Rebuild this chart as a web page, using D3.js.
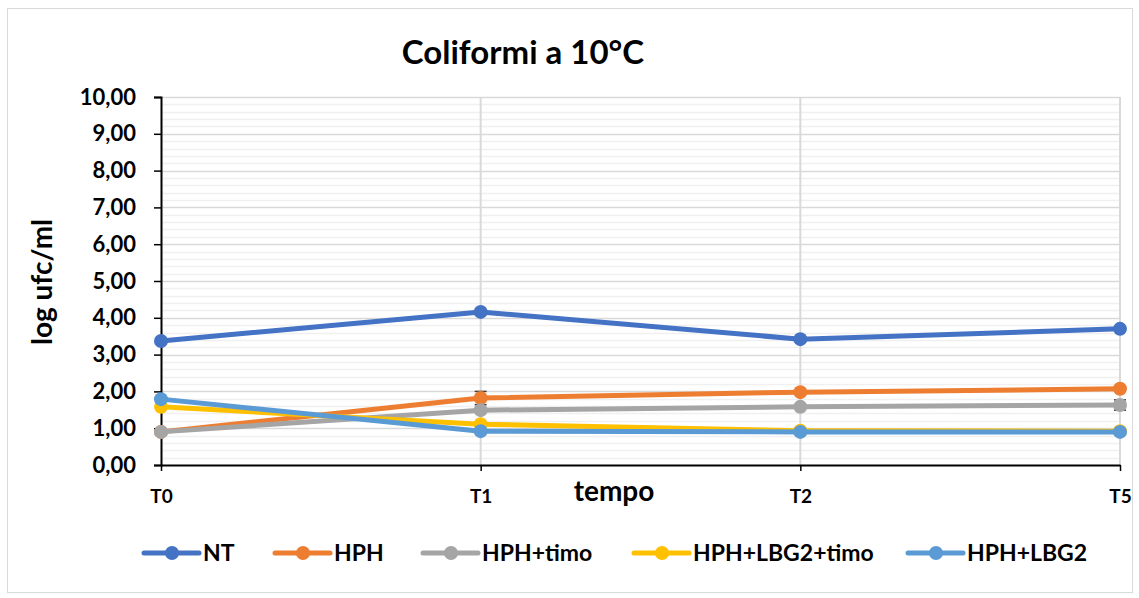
<!DOCTYPE html>
<html>
<head>
<meta charset="utf-8">
<script src="https://cdn.jsdelivr.net/npm/d3@7"></script>
<style>
  body { margin: 0; background: #fff; }
  text { font-family: Lato, "Open Sans", sans-serif; font-weight: bold; fill: #000; }
</style>
</head>
<body>
<div id="chart"></div>
<script>
// data
const times = ["T0", "T1", "T2", "T5"];
const seriesNames = ["NT", "HPH", "HPH+timo", "HPH+LBG2+timo", "HPH+LBG2"];
const seriesColors = ["#4472c4", "#ed7d31", "#a5a5a5", "#ffc000", "#5b9bd5"];
const ntValues = [3.37, 4.16, 3.42, 3.70];
const hphValues = [0.90, 1.82, 1.98, 2.07];
const hphTimoValues = [0.90, 1.49, 1.58, 1.63];
const hphLbg2TimoValues = [1.58, 1.11, 0.93, 0.92];
const hphLbg2Values = [1.79, 0.92, 0.90, 0.90];
const errHph = [0, 0.18, 0.03, 0.03];
const errHphTimo = [0, 0.05, 0.03, 0.14];
const yTicks = [0, 1, 2, 3, 4, 5, 6, 7, 8, 9, 10];

const allValues = [ntValues, hphValues, hphTimoValues, hphLbg2TimoValues, hphLbg2Values];
const allErrs = [null, errHph, errHphTimo, null, null];

const W = 1139, H = 598;
const svg = d3.select("#chart").append("svg")
  .attr("width", W).attr("height", H);

// chart border
svg.append("rect")
  .attr("x", 7.5).attr("y", 8.5).attr("width", 1125).attr("height", 584)
  .attr("fill", "#fff").attr("stroke", "#d9d9d9").attr("stroke-width", 1);

const x = d3.scalePoint().domain(times).range([161, 1120]);
const y = d3.scaleLinear().domain([0, 10]).range([465, 97]);

// minor gridlines
const minor = d3.range(0, 10.001, 0.2).filter(v => Math.abs(v - Math.round(v)) > 0.01);
svg.append("g").selectAll("line").data(minor).join("line")
  .attr("x1", 161).attr("x2", 1120)
  .attr("y1", d => Math.round(y(d)) + 0.5).attr("y2", d => Math.round(y(d)) + 0.5)
  .attr("stroke", "#f0f0f0").attr("stroke-width", 1.5);

// major gridlines
svg.append("g").selectAll("line").data(yTicks.slice(1)).join("line")
  .attr("x1", 161).attr("x2", 1120)
  .attr("y1", d => Math.round(y(d)) + 0.5).attr("y2", d => Math.round(y(d)) + 0.5)
  .attr("stroke", "#d9d9d9").attr("stroke-width", 1.5);

// vertical gridlines
svg.append("g").selectAll("line").data(times.slice(1)).join("line")
  .attr("x1", d => x(d)).attr("x2", d => x(d))
  .attr("y1", 97).attr("y2", 465)
  .attr("stroke", "#d9d9d9").attr("stroke-width", 2);

// y axis
const yAxis = svg.append("g")
  .attr("transform", "translate(161,0)")
  .call(d3.axisLeft(y).tickValues(yTicks).tickSize(7).tickPadding(18)
    .tickFormat(d => d3.format(".2f")(d).replace(".", ",")));
yAxis.select(".domain").attr("stroke", "#000").attr("stroke-width", 2);
yAxis.selectAll(".tick line").attr("stroke", "#000").attr("stroke-width", 1.5);
yAxis.selectAll("text").attr("font-size", 22).style("font-size", "22px");

// x axis
const xAxis = svg.append("g")
  .attr("transform", "translate(0,465)")
  .call(d3.axisBottom(x).tickSize(6).tickPadding(19).tickSizeOuter(0));
xAxis.select(".domain").attr("stroke", "#000").attr("stroke-width", 2);
xAxis.selectAll(".tick line").attr("stroke", "#000").attr("stroke-width", 1.5);
xAxis.selectAll("text").attr("font-size", 19).style("font-size", "19px");

// error bars
allErrs.forEach((errs, i) => {
  if (!errs) return;
  const vals = allValues[i];
  const g = svg.append("g");
  times.forEach((t, j) => {
    if (errs[j] <= 0) return;
    const cx = x(t);
    g.append("line").attr("x1", cx).attr("x2", cx)
      .attr("y1", y(vals[j] - errs[j])).attr("y2", y(vals[j] + errs[j]))
      .attr("stroke", "#404040").attr("stroke-width", 1.5);
    [vals[j] - errs[j], vals[j] + errs[j]].forEach(v => {
      g.append("line").attr("x1", cx - 6).attr("x2", cx + 6)
        .attr("y1", y(v)).attr("y2", y(v))
        .attr("stroke", "#404040").attr("stroke-width", 1.5);
    });
  });
});

// series lines and markers
const line = d3.line().x((d, i) => x(times[i])).y(d => y(d));
allValues.forEach((vals, i) => {
  const g = svg.append("g");
  g.append("path").datum(vals)
    .attr("d", line)
    .attr("fill", "none")
    .attr("stroke", seriesColors[i])
    .attr("stroke-width", 5)
    .attr("stroke-linejoin", "round");
  g.selectAll("circle").data(vals).join("circle")
    .attr("cx", (d, j) => x(times[j]))
    .attr("cy", d => y(d))
    .attr("r", 7)
    .attr("fill", seriesColors[i]);
});

// title
svg.append("text")
  .attr("x", 523).attr("y", 64)
  .attr("text-anchor", "middle")
  .style("font-size", "33px")
  .text("Coliformi a 10°C");

// axis titles
svg.append("text")
  .attr("transform", "translate(52,282) rotate(-90)")
  .attr("text-anchor", "middle")
  .style("font-size", "28px")
  .text("log ufc/ml");

svg.append("text")
  .attr("x", 614).attr("y", 501)
  .attr("text-anchor", "middle")
  .style("font-size", "28px")
  .text("tempo");

// legend
const legendX = [144, 275, 423, 634, 908];
const legend = svg.append("g");
seriesNames.forEach((name, i) => {
  const lx = legendX[i];
  legend.append("line")
    .attr("x1", lx).attr("x2", lx + 55)
    .attr("y1", 553).attr("y2", 553)
    .attr("stroke", seriesColors[i]).attr("stroke-width", 5)
    .attr("stroke-linecap", "round");
  legend.append("circle")
    .attr("cx", lx + 28).attr("cy", 553).attr("r", 7)
    .attr("fill", seriesColors[i]);
  legend.append("text")
    .attr("x", lx + 59).attr("y", 561)
    .style("font-size", "23px")
    .text(name);
});
</script>
</body>
</html>
